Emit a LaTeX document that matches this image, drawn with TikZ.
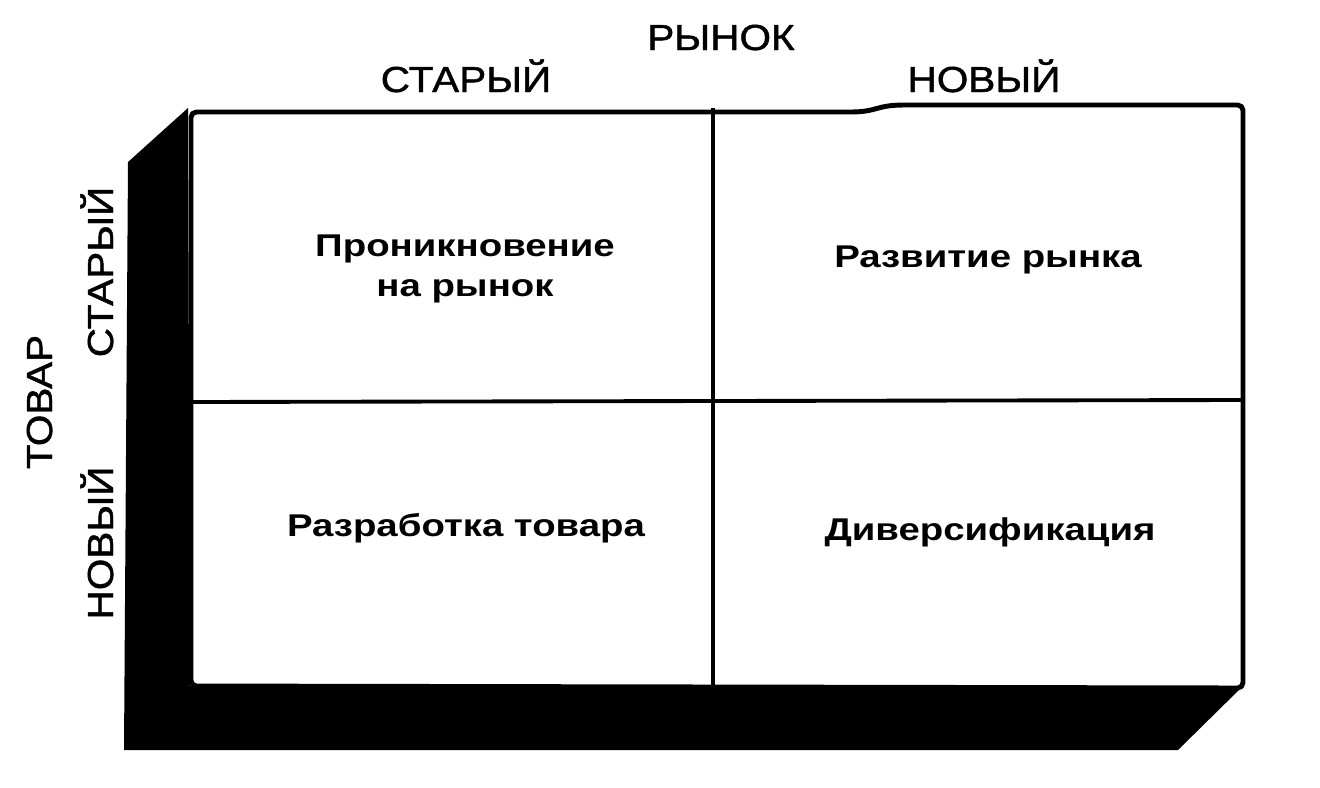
\documentclass[tikz,border=0pt]{standalone}
\usepackage{fontspec}
\setmainfont{Liberation Sans}
\newfontfamily\lblfont[FakeStretch=1.12, FakeBold=1.2]{Liberation Sans}
\newfontfamily\cellfont[FakeStretch=1.22]{Liberation Sans Bold}
\usetikzlibrary{calc}

\tikzset{
  osy/.style={font=\lblfont\fontsize{20.6}{24}\selectfont, inner sep=0pt, anchor=base},
  pole/.style={font=\cellfont\fontsize{17.9}{22.5}\selectfont, align=center, inner sep=0pt},
}

\begin{document}
\begin{tikzpicture}[x=0.02cm, y=-0.02cm, line join=round]
	% ============================================================
	% Jednostka = 1 px obrazu (1320 x 788), os y w dol
	% ============================================================
	\useasboundingbox (0,0) rectangle (1320,788);
	
	% === 1. CIEN (bok i spod) ===
	\fill[black] (188,108) -- (128,162) -- (124,750) -- (1178,750)
	-- (1243,686) -- (190,686) -- cycle;
	
	% === 2. LICO MACIERZY ===
	\draw[line width=2.8pt, fill=white, rounded corners=3pt]
	(191,112) -- (845,112) .. controls (878,112) and (875,105) .. (910,105)
	-- (1243,105) -- (1243,688) -- (191,686) -- cycle;
	
	% === 3. PODZIAL NA 4 POLA ===
	\coordinate (gora) at (713,108);
	\coordinate (dol) at (713,686);
	\coordinate (lewo) at (192,402);
	\coordinate (prawo) at (1243,400);
	\draw[line width=2.2pt] (gora) -- (dol);
	\draw[line width=2.2pt] (lewo) -- (prawo);
	
	% === 4. OS POZIOMA: RYNEK ===
	\node[osy] (rynok) at (721,50) {РЫНОК};
	\node[osy] (rstary) at (466,92) {СТАРЫЙ};
	\node[osy] (rnowy) at (984,92) {НОВЫЙ};
	
	% === 5. OS PIONOWA: TOWAR ===
	\node[osy, rotate=90] (towar) at (52,402) {ТОВАР};
	\node[osy, rotate=90] (tstary) at (113,272) {СТАРЫЙ};
	\node[osy, rotate=90] (tnowy) at (113,543) {НОВЫЙ};
	
	% === 6. POLA ===
	\node[pole] (pen) at (465,269) {Проникновение\\на рынок};
	\node[pole, anchor=base] (rozw) at (988,267) {Развитие рынка};
	\node[pole, anchor=base] (prod) at (466,536) {Разработка товара};
	\node[pole, anchor=base] (dyw) at (990,540) {Диверсификация};
	
\end{tikzpicture}
\end{document}
